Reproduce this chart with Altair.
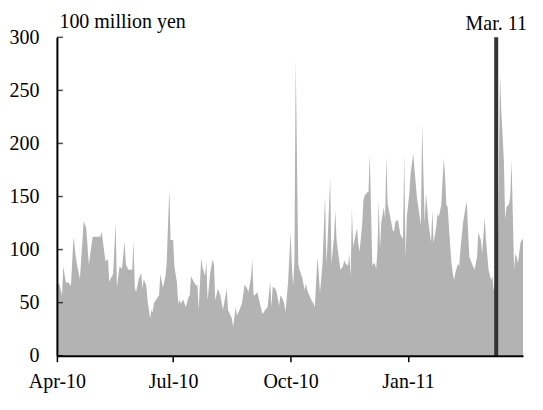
import altair as alt
import pandas as pd

# Days since 2010-04-01 and values (100 million yen)
day_offsets = [
    0, 2, 4, 5, 7, 9, 11, 13, 15, 18, 21, 23, 25, 28, 31, 34, 35, 38, 40, 41,
    44, 46, 47, 49, 51, 53, 54, 56, 59, 60,
    61, 62, 64, 66, 67, 68, 70, 71, 73, 74, 75, 76, 79, 80, 81, 83, 85, 86, 88, 89,
    91, 92, 94, 95, 96, 97, 99, 100, 101, 103, 104, 105, 107, 109, 110, 111, 113, 114,
    116, 117, 118, 120, 122,
    123, 124, 126, 128, 130, 131, 133, 134, 136, 137, 138, 140, 141, 143, 145, 147,
    149, 150, 152, 153, 154, 155, 157, 159, 161, 163, 165, 167, 168, 169, 171, 172,
    174, 175, 177, 178, 179, 181, 183, 184, 185,
    186, 187, 189, 190, 192, 193, 194, 195, 196, 198, 199, 201, 202, 204, 205, 206,
    208, 210, 211, 212, 214, 215, 217, 218, 219, 221, 222, 224, 225, 226, 228, 229,
    230, 231, 232, 233, 235, 236, 237, 239, 240, 241, 243, 244, 245, 247, 248,
    249, 250, 251, 252, 253, 254, 256, 257, 258, 259, 261, 263, 264, 265, 267, 268,
    269, 271, 272, 273, 274, 276, 277, 279, 280, 282, 284, 285, 286, 288, 289, 290,
    291, 293, 294, 295, 297, 298, 299, 301, 302, 303, 304, 305, 306, 308, 309, 310,
    311, 312, 314, 315, 316, 318, 320, 321, 322, 323, 325, 327, 329, 330, 332, 333,
    335, 336, 338, 340, 341, 342, 344, 345, 347, 348, 350, 351, 352, 354, 355, 356,
    358, 359, 360, 361, 363, 364, 365,
]
values = [
    69, 67, 57, 84, 69, 69, 66, 112, 91, 72, 127, 120, 86, 112, 112, 112, 117, 89, 91, 70,
    77, 125, 64, 84, 82, 108, 86, 81, 81, 108,
    64, 60, 72, 78, 63, 72, 66, 52, 35, 43, 41, 50, 55, 57, 77, 64, 75, 88, 157, 109,
    109, 84, 69, 49, 53, 49, 53, 49, 46, 55, 57, 75, 70, 66, 67, 43, 92, 83,
    75, 89, 52, 78, 91,
    86, 52, 63, 57, 43, 50, 63, 43, 38, 35, 27, 46, 38, 43, 50, 67,
    63, 60, 74, 91, 57, 57, 60, 49, 39, 43, 46, 70, 46, 65, 63, 60,
    47, 57, 53, 49, 41, 69, 116, 84, 66,
    90, 280, 87, 81, 74, 68, 62, 68, 62, 56, 53, 49, 46, 93, 78, 59,
    87, 151, 87, 109, 168, 87, 112, 137, 109, 90, 81, 84, 90, 87, 85, 96,
    74, 139, 103, 109, 120, 106, 98, 123, 146, 151, 154, 154, 190, 85, 87,
    87, 82, 100, 146, 101, 125, 140, 129, 187, 143, 131, 118, 117, 126, 128, 121,
    114, 110, 189, 92, 131, 153, 172, 190, 176, 148, 132, 123, 218, 125, 153, 140,
    125, 107, 137, 106, 121, 134, 131, 142, 165, 186, 168, 142, 140, 103, 87, 78,
    71, 78, 87, 84, 100, 125, 140, 145, 116, 93, 87, 81, 93, 116, 109, 96,
    131, 109, 81, 71, 75, 62, 70, 75, 265, 231, 184, 128, 140, 143, 150, 184,
    81, 96, 93, 87, 106, 109, 110,
]

y_ticks = [0, 50, 100, 150, 200, 250, 300]
x_tick_dates = ["2010-04-01", "2010-07-01", "2010-10-01", "2011-01-01"]
event_dates = ["2011-03-11"]
event_labels = ["Mar. 11"]
y_title = "100 million yen"

start = pd.Timestamp("2010-04-01")
df = pd.DataFrame({
    "date": [(start + pd.Timedelta(days=d)).strftime("%Y-%m-%dT00:00:00") for d in day_offsets],
    "value": values,
})
ticks_df = pd.DataFrame({"value": y_ticks})
event_df = pd.DataFrame({
    "date": [d + "T00:00:00" for d in event_dates],
    "label": event_labels,
})

FONT = "Liberation Serif"


def dt(s):
    y, m, d = (int(p) for p in s.split("-"))
    return alt.DateTime(year=y, month=m, date=d)


x_scale = alt.Scale(domain=[dt("2010-04-01"), dt("2011-04-01")])
y_scale = alt.Scale(domain=[0, 300], nice=False)

x_axis = alt.Axis(
    values=[dt(s) for s in x_tick_dates], format="%b-%y", title=None, grid=False,
    labelFont=FONT, labelFontSize=20, labelColor="black", labelFlush=False,
    labelOverlap=False, labelPadding=10, tickSize=6, tickWidth=1.5, tickColor="black",
    domainColor="black", domainWidth=2, zindex=1,
)
y_axis = alt.Axis(
    values=y_ticks, grid=False, ticks=False, tickSize=0, labelPadding=18,
    labelFont=FONT, labelFontSize=20, labelColor="black",
    domainColor="black", domainWidth=2, zindex=1,
    title=y_title, titleAngle=0, titleAlign="left", titleBaseline="alphabetic",
    titleX=2, titleY=-10, titleFont=FONT, titleFontSize=20, titleFontWeight="normal",
    titleColor="black",
)

X = alt.X("date:T", scale=x_scale, axis=x_axis)
Y = alt.Y("value:Q", scale=y_scale, axis=y_axis)

area = alt.Chart(df).mark_area(color="#b3b3b3", opacity=1).encode(x=X, y=Y)

inner_ticks = alt.Chart(ticks_df).mark_tick(
    orient="horizontal", size=6, thickness=1.5, color="black"
).encode(y=Y, x=alt.value(3))

rule = alt.Chart(event_df).mark_rule(color="#333333", strokeWidth=4).encode(x=X)

label = alt.Chart(event_df).mark_text(
    font=FONT, fontSize=20, color="black", align="center", baseline="alphabetic"
).encode(x=X, y=alt.value(-7), text="label:N")

chart = alt.layer(area, inner_ticks, rule, label).properties(
    width=467, height=319,
    autosize=alt.AutoSizeParams(type="none"),
    padding={"left": 49, "top": 29, "right": 12, "bottom": 45},
).configure_view(stroke=None)

chart.save("out.html", embed_options={"renderer": "svg", "actions": False})
